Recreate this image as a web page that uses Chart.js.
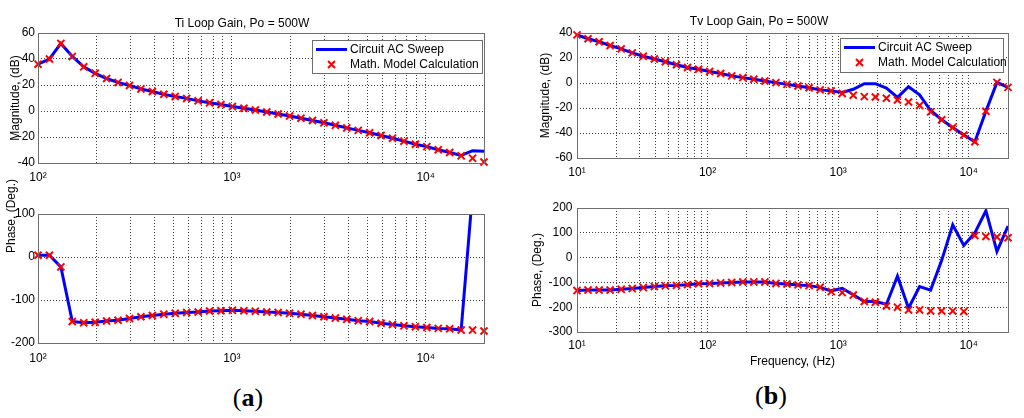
<!DOCTYPE html>
<html>
<head>
<meta charset="utf-8">
<script src="https://cdn.jsdelivr.net/npm/chart.js@4.4.0/dist/chart.umd.min.js"></script>
<style>
  body { margin: 0; background: #fff; width: 1024px; height: 418px; overflow: hidden; position: relative; }
  canvas { position: absolute; }
  .tag { position: absolute; font-family: "Liberation Serif", "Times New Roman", serif; font-size: 26px; transform: translate(-50%, -50%); }
</style>
</head>
<body>
<canvas id="tiMag" width="505" height="190" style="left:0;top:0"></canvas>
<canvas id="tiPhase" width="505" height="200" style="left:0;top:170px"></canvas>
<canvas id="tvMag" width="514" height="190" style="left:510px;top:0"></canvas>
<canvas id="tvPhase" width="514" height="190" style="left:510px;top:190px"></canvas>
<div class="tag" style="left:248px;top:398px">(<b>a</b>)</div>
<div class="tag" style="left:771px;top:396px">(<b>b</b>)</div>
<script>
// frequencies (Hz) of the sweep points
const freqTi = [100, 114.6, 131.2, 150.3, 172.2, 197.2, 225.9, 258.8, 296.5, 339.6,
  389.1, 445.7, 510.6, 584.9, 670.0, 767.6, 879.3, 1007, 1154, 1322,
  1514, 1734, 1986, 2275, 2607, 2986, 3421, 3919, 4489, 5142,
  5889, 6746, 7728, 8853, 10140, 11616, 13307, 15244, 17463, 20000];
const freqTv = [10, 12.15, 14.77, 17.94, 21.81, 26.50, 32.20, 39.13, 47.55, 57.79,
  70.22, 85.33, 103.7, 126.0, 153.1, 186.1, 226.1, 274.8, 333.9, 405.7,
  493.0, 599.1, 728.0, 884.6, 1075, 1306, 1587, 1929, 2344, 2848,
  3461, 4206, 5111, 6211, 7547, 9173, 11146, 13546, 16460, 20000];

// Ti loop gain
const tiMagSweep = [36, 40, 52, 42, 34, 29, 25, 22, 19.6, 17, 15, 12.8, 11.2, 9.7, 7.8, 6.3, 5, 3.4, 2.1, 0.8,
  -0.8, -2.3, -3.9, -5.5, -7.3, -9.1, -11, -13, -14.9, -16.7, -18.8, -20.9, -23.2, -25.6, -27.4, -29.8, -31.9, -34.2, -30.5, -31];
const tiMagModel = [36, 40, 52, 42, 34, 29, 25, 22, 19.6, 17, 15, 12.8, 11.2, 9.7, 7.8, 6.3, 5, 3.4, 2.1, 0.8,
  -0.8, -2.3, -3.9, -5.5, -7.3, -9.1, -11, -13, -14.9, -16.7, -18.8, -20.9, -23.2, -25.6, -27.4, -29.8, -31.9, -34.5, -36.3, -39.2];
const tiPhaseSweep = [4, 4, -23, -150, -153, -152, -149, -147, -143, -139, -136, -133, -131, -129, -128, -125.5, -125, -124, -125, -126,
  -128, -129, -131, -133, -136, -139, -142, -145, -148, -150, -154, -157, -160, -162, -164, -166, -167, -170, 150, 160];
const tiPhaseModel = [4, 4, -23, -150, -153, -152, -149, -147, -143, -139, -136, -133, -131, -129, -128, -125.5, -125, -124, -125, -126,
  -128, -129, -131, -133, -136, -139, -142, -145, -148, -150, -154, -157, -160, -162, -164, -166, -167, -170, -170, -172];

// Tv loop gain
const tvMagSweep = [38.5, 35.4, 33, 30, 27.3, 24.1, 21.4, 19.2, 17, 14.6, 12.4, 11, 9.2, 7.6, 5.7, 4.3, 3, 1.6, 0.3, -1.1,
  -2.4, -3.8, -5.5, -6.3, -7.5, -5, -0.5, -0.5, -4, -11.5, -3, -9.5, -22, -29.4, -35.6, -41.6, -47, -22.6, 0.5, -3.5];
const tvMagModel = [38.5, 35.4, 33, 30, 27.3, 24.1, 21.4, 19.2, 17, 14.6, 12.4, 11, 9.2, 7.6, 5.7, 4.3, 3, 1.6, 0.3, -1.1,
  -2.4, -3.8, -5.5, -6.3, -8.4, -9.8, -10.9, -11.2, -12.2, -13.6, -15.2, -18, -23.1, -29.4, -35.6, -41.6, -47, -22.6, 0.5, -3.5];
const tvPhaseSweep = [-133, -131, -131, -131, -128, -125, -121, -117, -114, -112, -109, -105, -104, -102, -100, -98, -98, -98, -104, -106,
  -110, -113, -120, -134, -124, -150, -177, -177, -188, -75, -204, -117, -131, -11, 132, 49, 100, 189, 25, 127];
const tvPhaseModel = [-133, -131, -131, -131, -128, -125, -121, -117, -114, -112, -109, -105, -104, -102, -100, -98, -98, -98, -104, -106,
  -110, -113, -120, -137, -141, -151, -177, -180, -195, -200, -211, -211, -215, -215, -215, -217, 89, 85, 83, 80];

// grid / tick positions
const gridTi = [100, 200, 300, 400, 500, 600, 700, 800, 900, 1000, 2000, 3000, 4000, 5000, 6000, 7000, 8000, 9000, 10000, 20000];
const gridTv = [10, 20, 30, 40, 50, 60, 70, 80, 90, 100, 200, 300, 400, 500, 600, 700, 800, 900,
  1000, 2000, 3000, 4000, 5000, 6000, 7000, 8000, 9000, 10000, 20000];
const decades = [10, 100, 1000, 10000];
const decadeLabels = ['10\u00b9', '10\u00b2', '10\u00b3', '10\u2074'];

const seriesNames = ['Circuit AC Sweep', 'Math. Model Calculation'];

const FONT = '"Liberation Sans", Arial, sans-serif';
const BLUE = '#0000ff', RED = '#ff0000', FRAME = '#6e6e6e', GRID = '#3c3c3c';

function pairs(xs, ys) {
  return xs.map((x, i) => ({ x: x, y: ys[i] }));
}

// axes box like matlab
const framePlugin = {
  id: 'frame',
  afterDraw(chart) {
    const { ctx, chartArea: ca } = chart;
    ctx.save();
    ctx.strokeStyle = FRAME;
    ctx.lineWidth = 1;
    ctx.strokeRect(Math.round(ca.left) + 0.5, Math.round(ca.top) + 0.5,
      Math.round(ca.right - ca.left), Math.round(ca.bottom - ca.top));
    ctx.restore();
  }
};

// legend box inside the axes
const boxLegend = {
  id: 'boxLegend',
  afterDraw(chart, args, o) {
    if (!o || !o.width) return;
    const { ctx, chartArea: ca } = chart;
    const x = Math.round(ca.right - o.right - o.width), y = Math.round(ca.top + o.top);
    ctx.save();
    ctx.fillStyle = '#fff';
    ctx.fillRect(x, y, o.width, o.height);
    ctx.strokeStyle = FRAME;
    ctx.lineWidth = 1;
    ctx.strokeRect(x + 0.5, y + 0.5, o.width, o.height);
    const r1 = y + 9.5, r2 = y + 24.5;
    ctx.strokeStyle = BLUE;
    ctx.lineWidth = 3;
    ctx.beginPath(); ctx.moveTo(x + 4, r1); ctx.lineTo(x + 35, r1); ctx.stroke();
    ctx.strokeStyle = RED;
    ctx.lineWidth = 2;
    const cx = x + 19.5, d = 3.5;
    ctx.beginPath();
    ctx.moveTo(cx - d, r2 - d); ctx.lineTo(cx + d, r2 + d);
    ctx.moveTo(cx - d, r2 + d); ctx.lineTo(cx + d, r2 - d);
    ctx.stroke();
    ctx.fillStyle = '#000';
    ctx.font = '12px ' + FONT;
    ctx.textBaseline = 'middle';
    ctx.fillText(seriesNames[0], x + 38, r1);
    ctx.fillText(seriesNames[1], x + 38, r2);
    ctx.restore();
  }
};

// free standing rotated axis label (used where matlab shifted it)
const sideLabel = {
  id: 'sideLabel',
  afterDraw(chart, args, o) {
    if (!o || !o.text) return;
    const ctx = chart.ctx;
    ctx.save();
    ctx.translate(o.x, o.y);
    ctx.rotate(-Math.PI / 2);
    ctx.font = '12px ' + FONT;
    ctx.fillStyle = '#000';
    ctx.textAlign = 'center';
    ctx.textBaseline = 'middle';
    ctx.fillText(o.text, 0, 0);
    ctx.restore();
  }
};

function makePanel(id, p) {
  const cv = document.getElementById(id);
  const W = cv.width, H = cv.height;
  const a = p.area;
  const titleOpts = p.title
    ? { display: true, text: p.title, color: '#000', font: { family: FONT, size: 12, weight: 'normal' },
        padding: { top: p.titleY - 7.2, bottom: a.top - p.titleY - 7.2 } }
    : { display: false };

  return new Chart(cv, {
    type: 'line',
    data: {
      datasets: [
        {
          label: seriesNames[1],
          data: pairs(p.freq, p.model),
          showLine: false,
          pointStyle: 'crossRot',
          pointRadius: 5,
          pointBorderWidth: 2,
          borderColor: RED,
          backgroundColor: RED,
          clip: false,
          order: 0
        },
        {
          label: seriesNames[0],
          data: pairs(p.freq, p.sweep),
          borderColor: BLUE,
          borderWidth: 3,
          pointRadius: 0,
          tension: 0,
          order: 1
        }
      ]
    },
    options: {
      responsive: false,
      animation: false,
      events: [],
      layout: { padding: { left: 0, right: W - a.right, top: p.title ? 0 : a.top, bottom: 0 } },
      plugins: {
        legend: { display: false },
        tooltip: { enabled: false },
        title: titleOpts,
        boxLegend: p.legend || {},
        sideLabel: p.side || {}
      },
      scales: {
        x: {
          type: 'logarithmic',
          min: p.xMin,
          max: 20000,
          afterBuildTicks: s => { s.ticks = p.grid.map(v => ({ value: v })); },
          afterFit: s => { s.height = H - a.bottom; },
          grid: { color: GRID, lineWidth: 1, drawTicks: false },
          border: { display: false, dash: [1, 2] },
          ticks: {
            autoSkip: false, maxRotation: 0, padding: p.xPad, color: '#000',
            font: { family: FONT, size: 12 },
            callback: v => { const k = decades.indexOf(v); return k < 0 ? '' : decadeLabels[k]; }
          },
          title: p.xTitle
            ? { display: true, text: p.xTitle, color: '#000', font: { family: FONT, size: 12 },
                padding: { top: 0, bottom: H - 7.2 - p.xTitleY } }
            : { display: false }
        },
        y: {
          min: p.yMin,
          max: p.yMax,
          afterFit: s => { s.width = a.left; },
          grid: { color: GRID, lineWidth: 1, drawTicks: false },
          border: { display: false, dash: [1, 2] },
          ticks: { stepSize: p.yStep, padding: p.yPad, color: '#000', font: { family: FONT, size: 12 } },
          title: p.yTitle
            ? { display: true, text: p.yTitle, color: '#000', font: { family: FONT, size: 12 },
                padding: { top: p.yTitleX - 7.2, bottom: 0 } }
            : { display: false }
        }
      }
    },
    plugins: [framePlugin, boxLegend, sideLabel]
  });
}

makePanel('tiMag', {
  freq: freqTi, sweep: tiMagSweep, model: tiMagModel, grid: gridTi, xMin: 100,
  area: { left: 38, top: 33, right: 484, bottom: 163 },
  title: 'Ti Loop Gain, Po = 500W', titleY: 24,
  yMin: -40, yMax: 60, yStep: 20, yPad: 3, xPad: 7.5,
  yTitle: 'Magnitude, (dB)', yTitleX: 16,
  legend: { width: 170, height: 33, right: 2, top: 7 }
});

makePanel('tiPhase', {
  freq: freqTi, sweep: tiPhaseSweep, model: tiPhaseModel, grid: gridTi, xMin: 100,
  area: { left: 38, top: 44, right: 484, bottom: 173 },
  yMin: -200, yMax: 100, yStep: 100, yPad: 3, xPad: 8,
  side: { text: 'Phase, (Deg.)', x: 12, y: 46 }
});

makePanel('tvMag', {
  freq: freqTv, sweep: tvMagSweep, model: tvMagModel, grid: gridTv, xMin: 10,
  area: { left: 67, top: 33, right: 498, bottom: 158 },
  title: 'Tv Loop Gain, Po = 500W', titleY: 22,
  yMin: -60, yMax: 40, yStep: 20, yPad: 4.5, xPad: 7.5,
  yTitle: 'Magnitude, (dB)', yTitleX: 35.5,
  legend: { width: 163, height: 34, right: 5, top: 5 }
});

makePanel('tvPhase', {
  freq: freqTv, sweep: tvPhaseSweep, model: tvPhaseModel, grid: gridTv, xMin: 10,
  area: { left: 67, top: 18, right: 498, bottom: 142 },
  yMin: -300, yMax: 200, yStep: 100, yPad: 4.5, xPad: 6.5,
  yTitle: 'Phase, (Deg.)', yTitleX: 28,
  xTitle: 'Frequency, (Hz)', xTitleY: 172
});
</script>
</body>
</html>
